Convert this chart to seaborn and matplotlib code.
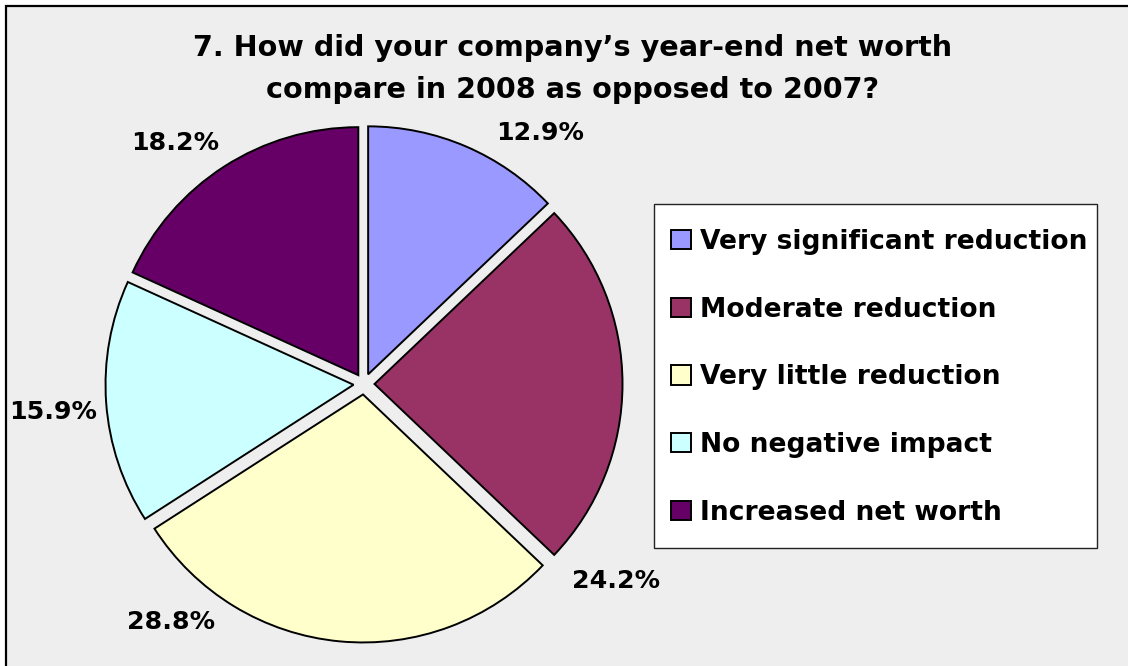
import matplotlib
matplotlib.use("Agg")
import matplotlib.pyplot as plt
from matplotlib.patches import Rectangle
import seaborn as sns

# Survey answers and their shares (percent)
categories = [
    "Very significant reduction",
    "Moderate reduction",
    "Very little reduction",
    "No negative impact",
    "Increased net worth",
]
shares = [12.9, 24.2, 28.8, 15.9, 18.2]
slice_colors = ["#9999FF", "#993366", "#FFFFCC", "#CCFFFF", "#660066"]

title_lines = [
    "7. How did your company\u2019s year-end net worth",
    "compare in 2008 as opposed to 2007?",
]

# Label anchor points (figure pixels, origin top-left)
label_xy = [(540, 133), (616, 581), (171, 622), (53, 412), (175, 143)]

W, H = 1128, 666
sns.set_theme(style="white")
plt.rcParams["font.family"] = ["DejaVu Sans"]
plt.rcParams["text.color"] = "black"

fig = plt.figure(figsize=(W / 100, H / 100), dpi=100)
fig.patch.set_facecolor("white")

# Chart area panel with its frame, kept behind the axes
fig.patches.append(Rectangle((6 / W, -0.1), 1.2, (H - 6) / H + 0.1,
                             transform=fig.transFigure, facecolor="#EEEEEE",
                             edgecolor="black", linewidth=1.6, zorder=-5))
# Legend box
fig.patches.append(Rectangle((654 / W, (H - 548) / H), (1097 - 654) / W,
                             (548 - 204) / H, transform=fig.transFigure,
                             facecolor="white", edgecolor="#222222",
                             linewidth=1.0, zorder=-4))

ax = fig.add_axes([0, 0, 1, 1])
ax.set_facecolor("none")
ax.set_zorder(1)

palette = sns.color_palette(slice_colors)
cx, cy, r = 364, H - 384, 248
wedges, _ = ax.pie(
    shares,
    colors=palette,
    startangle=90,
    counterclock=False,
    explode=[10.5] * len(shares),
    center=(cx, cy),
    radius=r,
    wedgeprops=dict(edgecolor="black", linewidth=1.4),
)
ax.set_xlim(0, W)
ax.set_ylim(0, H)
ax.set_aspect("equal")
ax.axis("off")

for val, (px, py) in zip(shares, label_xy):
    ax.text(px, H - py, f"{val:.1f}%", ha="center", va="center",
            fontsize=18.2, fontweight="bold", color="black")

ax.text(573, H - 48, title_lines[0], ha="center", va="center",
        fontsize=20.6, fontweight="bold", color="black")
ax.text(573, H - 90, title_lines[1], ha="center", va="center",
        fontsize=20.6, fontweight="bold", color="black")

leg = ax.legend(
    wedges, categories,
    loc="upper left",
    bbox_to_anchor=(671 / W, (H - 229) / H),
    bbox_transform=fig.transFigure,
    frameon=False,
    handlelength=0.75,
    handleheight=0.75,
    handletextpad=0.34,
    labelspacing=1.57,
    borderpad=0,
    borderaxespad=0,
    prop=dict(size=19.1, weight="bold"),
)
for t in leg.get_texts():
    t.set_color("black")

fig.savefig("out.png", dpi=100, facecolor=fig.get_facecolor())
